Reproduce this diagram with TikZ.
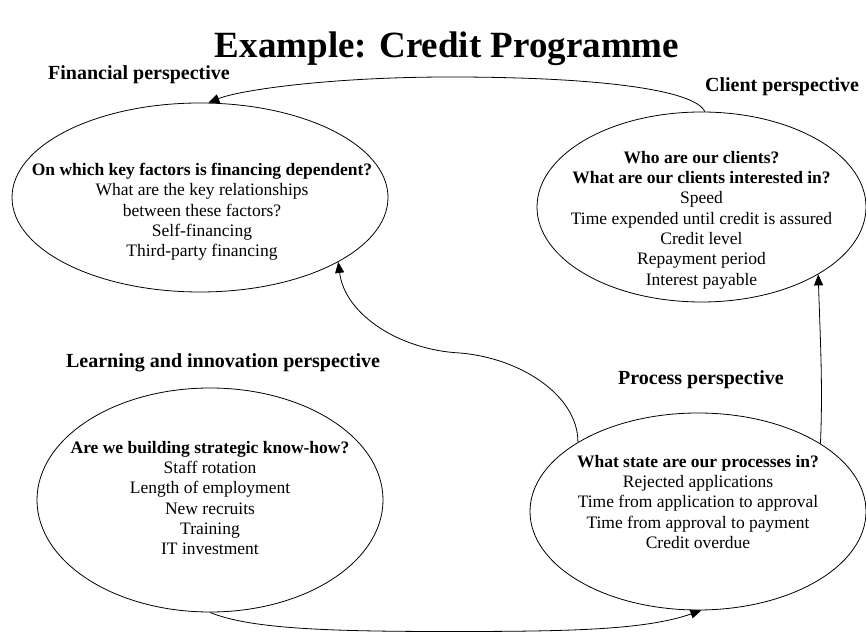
\documentclass[tikz,border=0pt]{standalone}
\usepackage{fontspec}
\setmainfont{Liberation Serif}
\usetikzlibrary{shapes.geometric,arrows.meta}
\begin{document}
\begin{tikzpicture}[x=1pt,y=1pt,
  persp/.style={draw=black, line width=0.8pt, ellipse, inner sep=0pt},
  body/.style={align=center, font=\fontsize{17.5}{20.3}\selectfont, inner sep=0pt},
  lbl/.style={font=\fontsize{20}{24}\selectfont\bfseries, inner sep=0pt},
  conn/.style={draw=black, line width=0.8pt, -{Triangle[length=11pt,width=9pt]}}
]
\useasboundingbox (0,0) rectangle (866,634);
\node[font=\fontsize{37}{40}\selectfont\bfseries, inner sep=0pt] (title) at (447,585) {Example: Credit Programme};

% ellipses
\node[persp, minimum width=376pt, minimum height=189pt] (fin) at (200,436.5) {};
\node[persp, minimum width=329pt, minimum height=190pt] (cli) at (701.5,427) {};
\node[persp, minimum width=346pt, minimum height=224pt] (learn) at (210,134) {};
\node[persp, minimum width=336pt, minimum height=197pt] (proc) at (698,122.5) {};

% texts
\node[body] (finT) at (202,422) {\textbf{On which key factors is financing dependent?}\\What are the key relationships\\between these factors?\\Self-financing\\Third-party financing};
\node[body] (cliT) at (701.5,414) {\textbf{Who are our clients?}\\\textbf{What are our clients interested in?}\\Speed\\Time expended until credit is assured\\Credit level\\Repayment period\\Interest payable};
\node[body] (learnT) at (210,136) {\textbf{Are we building strategic know-how?}\\Staff rotation\\Length of employment\\New recruits\\Training\\IT investment};
\node[body] (procT) at (698,132) {\textbf{What state are our processes in?}\\Rejected applications\\Time from application to approval\\Time from approval to payment\\Credit overdue};

% labels
\node[lbl] (finL) at (139,559) {Financial perspective};
\node[lbl] (cliL) at (782,547) {Client perspective};
\node[lbl] (learnL) at (223,271) {Learning and innovation perspective};
\node[lbl] (procL) at (701,254) {Process perspective};

% connectors
\draw[conn] (cli.88) .. controls (695,544) and (600,557) .. (450,557)
  .. controls (330,557) and (240,544) .. (fin.85);
\draw[conn] (proc.150) .. controls (578,239) and (520,276) .. (460,281)
  .. controls (400,284) and (345,319) .. (fin.-25.6);
\draw[conn] (proc.29) .. controls (823,250) and (820,300) .. (cli.-30.4);
\draw[conn] (learn.south) .. controls (250,5) and (330,2.5) .. (450,2.5)
  .. controls (570,2.5) and (645,4) .. (proc.-88);
\end{tikzpicture}
\end{document}
